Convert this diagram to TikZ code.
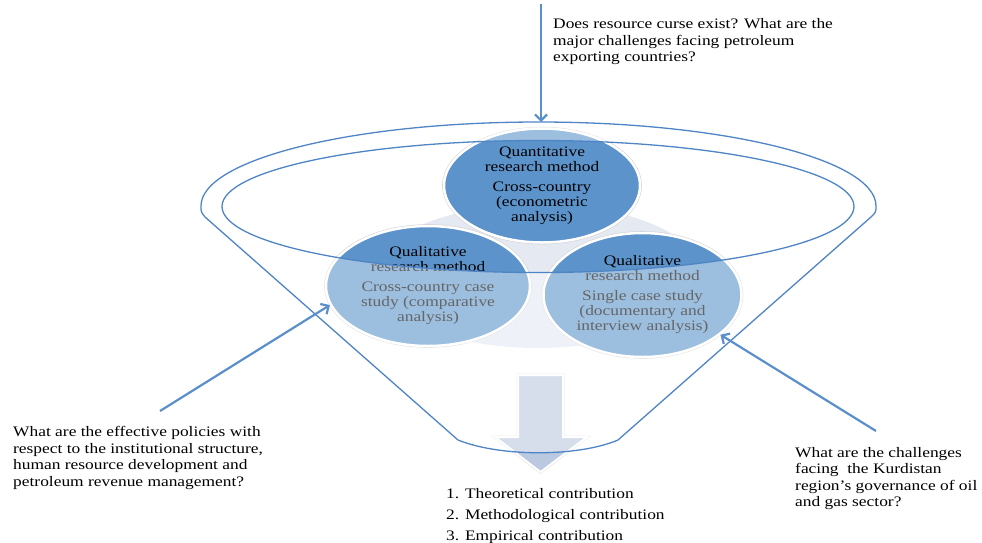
\documentclass[tikz,border=0pt]{standalone}
\usepackage{fontspec}
\setmainfont{Liberation Serif}[FakeStretch=1.2]
\usetikzlibrary{shapes.geometric,arrows.meta}
\definecolor{rimblue}{HTML}{4F85C5}
\definecolor{askblue}{HTML}{5A8FCB}
\definecolor{methfill}{HTML}{5B93CA}
\definecolor{blobfill}{HTML}{E4E9F2}
\definecolor{downfill}{HTML}{BBC9E0}
\newcommand{\funneloutline}{(205,217) -- (458,440) .. controls (500,457) and (578,457) .. (618,440) -- (871,217) .. controls (876,212) .. (876,206) .. controls (876,159.6) and (724.9,122) .. (538.5,122) .. controls (352.1,122) and (201,159.6) .. (201,206) .. controls (201,212) .. (205,217) -- cycle}

\begin{document}
\begin{tikzpicture}[x=1pt, y=-1pt,
  qtext/.style={anchor=north west, align=left, inner sep=0pt, font=\fontsize{14.5}{16.5}\selectfont},
  method/.style={ellipse, draw=white, line width=2.5pt, fill=methfill, inner sep=0pt, align=center,
    preaction={draw=black!18, line width=3.6pt}, font=\fontsize{14.5}{15}\selectfont},
  ask/.style={-{Straight Barb[length=6pt, width=12pt]}, draw=askblue, line width=2.2pt},
  rim/.style={draw=rimblue, line width=1.3pt}
]
\useasboundingbox (0,0) rectangle (982,542);
% pale backdrop behind the three methods
\fill[blobfill] (538,276) ellipse [x radius=165, y radius=72];
% ---------- the three methods ----------
\node[method, minimum width=204pt, minimum height=120pt] (cl) at (428,286)
  {Qualitative\\research method\\[5pt]Cross-country case\\study (comparative\\analysis)};
\node[method, minimum width=198pt, minimum height=124pt] (cr) at (642.5,295)
  {Qualitative\\research method\\[5pt]Single case study\\(documentary and\\interview analysis)};
\node[method, minimum width=196pt, minimum height=114pt] (ct) at (542,185.5)
  {Quantitative\\research method\\[5pt]Cross-country\\(econometric\\analysis)};
% down arrow out of the funnel
\filldraw[draw=white, line width=2pt, fill=downfill, preaction={draw=black!12, line width=3pt}]
  (518,375) -- (563,375) -- (563,437) -- (587,437) -- (540.5,472) -- (495,437) -- (518,437) -- cycle;
% ---------- funnel glass ----------
\fill[white, fill opacity=0.4, even odd rule] \funneloutline (538,206.5) ellipse [x radius=316, y radius=66];
\draw[rim] \funneloutline;
\draw[rim] (538,206.5) ellipse [x radius=316, y radius=66];
% ---------- questions ----------
\node[qtext] (qtop) at (553,18.5) {Does resource curse exist? What are the\\major challenges facing petroleum\\exporting countries?};
\node[qtext] (qleft) at (13,426.5) {What are the effective policies with\\respect to the institutional structure,\\human resource development and\\petroleum revenue management?};
\node[qtext] (qright) at (795,447) {What are the challenges\\facing\ \ the Kurdistan\\region’s governance of oil\\and gas sector?};
\coordinate (toptail) at (541,4);
\coordinate (rimtop) at (541,122);
\coordinate (lefttail) at (160,411);
\coordinate (righttail) at (876,431);
\draw[ask] (toptail) -- (rimtop);
\draw[ask] (lefttail) -- (cl.191);
\draw[ask] (righttail) -- (cr.333);
% ---------- contributions ----------
\node[qtext, font=\fontsize{14.5}{21}\selectfont] (contrib) at (446,488)
  {1. Theoretical contribution\\2. Methodological contribution\\3. Empirical contribution};
\end{tikzpicture}
\end{document}
